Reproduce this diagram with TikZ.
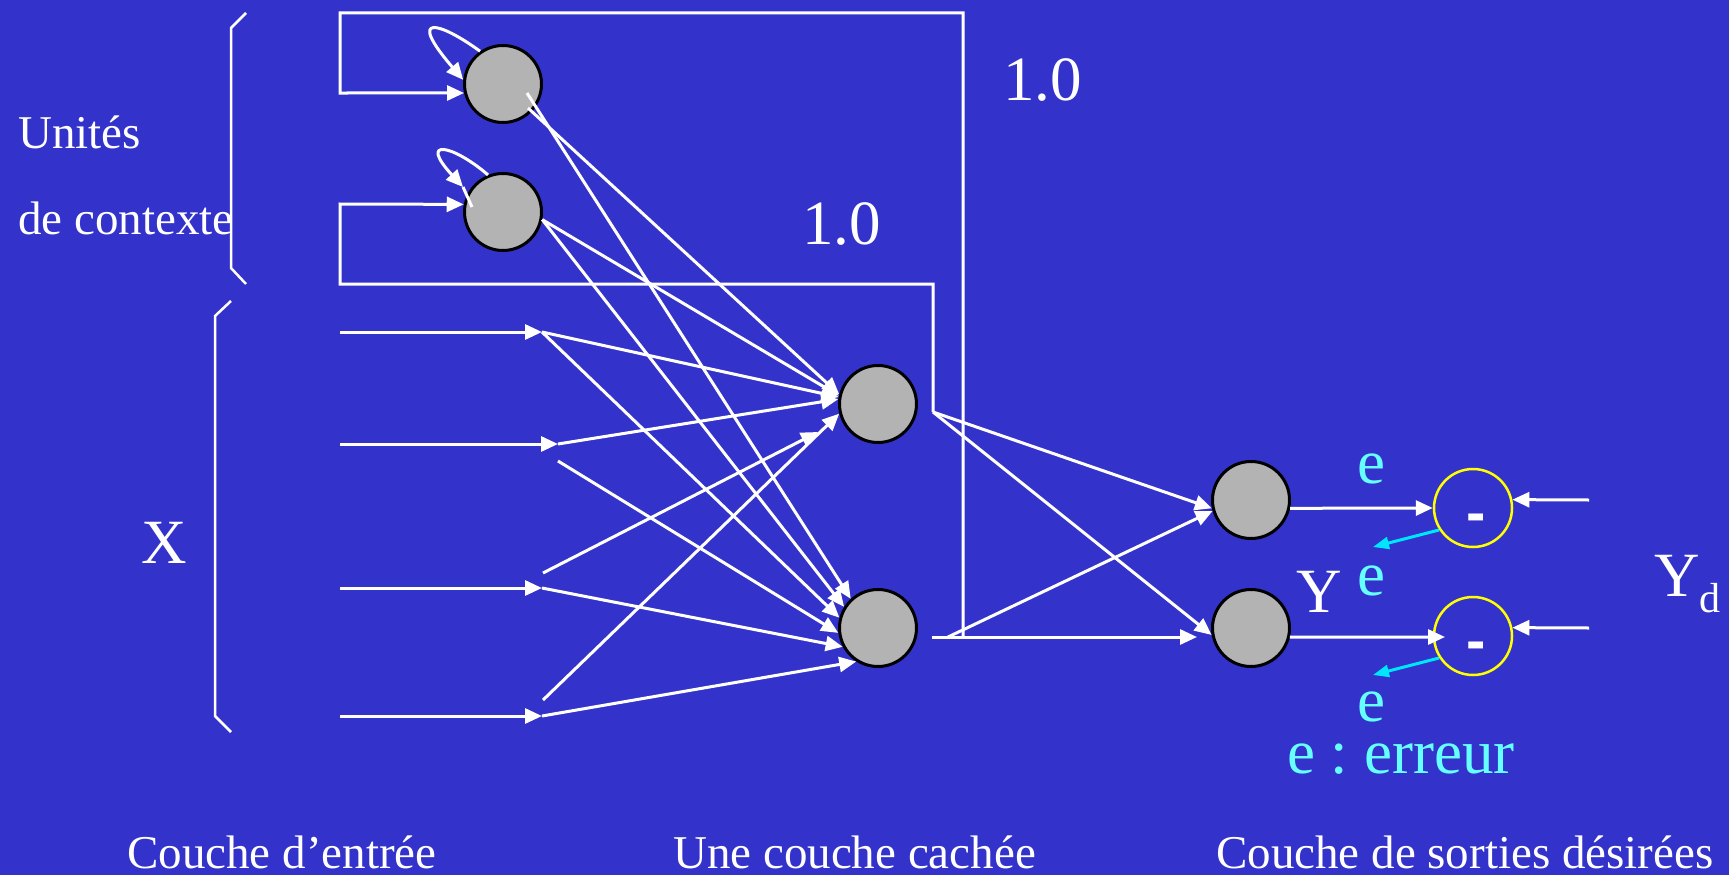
\documentclass[tikz,border=0pt]{standalone}
\usepackage{fontspec}
\setmainfont{Liberation Serif}
\newfontfamily\signfont{Liberation Sans}
\usetikzlibrary{arrows.meta}

\definecolor{slidebg}{RGB}{51,51,204}
\definecolor{nodegray}{RGB}{179,179,179}
\definecolor{diffyellow}{RGB}{255,255,0}
\definecolor{errtext}{RGB}{102,255,255}
\definecolor{errline}{RGB}{0,230,255}

\tikzset{
  neuron/.style={circle, draw=black, line width=3pt, fill=nodegray,
                 minimum size=77pt, inner sep=0pt},
  diffnode/.style={circle, draw=diffyellow, line width=2.5pt,
                   minimum size=78pt, inner sep=0pt},
  wire/.style={draw=white, line width=3pt},
  feed/.style={wire, -{Triangle[length=17pt,width=15pt]}},
  errarr/.style={draw=errline, line width=3pt, -{Triangle[length=16pt,width=12pt]}},
  brace/.style={draw=white, line width=2.5pt},
  biglbl/.style={text=white, inner sep=0pt, font=\fontsize{63}{70}\selectfont},
  sublbl/.style={text=white, inner sep=0pt, font=\fontsize{42}{46}\selectfont},
  midlbl/.style={text=white, inner sep=0pt, font=\fontsize{47}{52}\selectfont},
  errlbl/.style={text=errtext, inner sep=0pt, font=\fontsize{63}{70}\selectfont},
  minus/.style={text=white, inner sep=0pt, font=\signfont\bfseries\fontsize{58}{58}\selectfont}
}

\begin{document}
\frenchspacing
\begin{tikzpicture}[x=1pt, y=-1pt]
\fill[slidebg] (0,0) rectangle (1729,875);
\useasboundingbox (0,0) rectangle (1729,875);

% ---- neurons ----
\node[neuron] (c1) at (503,84) {};
\node[neuron] (c2) at (503,212) {};
\node[neuron] (h1) at (878,404) {};
\node[neuron] (h2) at (878,628) {};
\node[neuron] (o1) at (1251,500) {};
\node[neuron] (o2) at (1251,628) {};
\node[diffnode] (d1) at (1473,508) {};
\node[diffnode] (d2) at (1473,636) {};
\node[minus, anchor=base] (m1) at (1476,532) {-};
\node[minus, anchor=base] (m2) at (1476,660) {-};

% ---- input terminals ----
\coordinate (s1) at (340,332);  \coordinate (i1) at (542,332);
\coordinate (s2) at (340,444);  \coordinate (i2) at (558,444);
\coordinate (s3) at (340,588);  \coordinate (i3) at (542,588);
\coordinate (s4) at (340,716);  \coordinate (i4) at (542,716);
\coordinate (i2b) at (558,461);
\coordinate (i3b) at (543,573);
\coordinate (i4b) at (543,700);
\coordinate (c1a) at (527,93);
\coordinate (c1b) at (528,108);
\coordinate (h1tip3) at (818,432);

% ---- hidden / output ports ----
\coordinate (h1o) at (933,412);
\coordinate (h2o) at (932,637);
\coordinate (h2ob) at (948,637);
\coordinate (h2j) at (963,637);
\coordinate (o2in) at (1197,637);
\coordinate (d2in) at (1445,637);
\coordinate (yd1) at (1589,500);
\coordinate (yd2) at (1589,628);
\coordinate (ce1) at (1373,547);
\coordinate (ce2) at (1373,675);

% ---- recurrent copy paths ----
\coordinate (fb1a) at (963,13);
\coordinate (fb1b) at (340,13);
\coordinate (fb1c) at (340,93);
\coordinate (fb2a) at (933,284);
\coordinate (fb2b) at (340,284);
\coordinate (fb2c) at (340,204);
\coordinate (c2k) at (463,187);
\coordinate (c2m) at (472,207);

% ---- brackets ----
\coordinate (b1a) at (246,13);  \coordinate (b1b) at (231,28);
\coordinate (b1c) at (231,268); \coordinate (b1d) at (246,284);
\coordinate (b2a) at (231,301); \coordinate (b2b) at (215,316);
\coordinate (b2c) at (215,716); \coordinate (b2d) at (231,732);
\draw[brace] (b1a) -- (b1b) -- (b1c) -- (b1d);
\draw[brace] (b2a) -- (b2b) -- (b2c) -- (b2d);

% input arrows
\draw[feed] (s1) -- (i1);
\draw[feed] (s2) -- (i2);
\draw[feed] (s3) -- (i3);
\draw[feed] (s4) -- (i4);

% input + context -> hidden 1
\draw[feed] (c1b) -- (h1.166);
\draw[feed] (c2.349) -- (h1.168);
\draw[feed] (i1) -- (h1.170);
\draw[feed] (i2) -- (h1.173);
\draw[feed] (i3b) -- (h1tip3);
\draw[feed] (i4b) -- (h1.194);

% input + context -> hidden 2
\draw[feed] (c1a) -- (h2.133);
\draw[feed] (c2.349) -- (h2.148);
\draw[feed] (i1) -- (h2.165);
\draw[feed] (i2b) -- (h2.187);
\draw[feed] (i3) -- (h2.208);
\draw[feed] (i4) -- (h2.237);

% copy of hidden activations into context units (weight 1.0)
\draw[feed] (h2j) -- (fb1a) -- (fb1b) -- (fb1c) -- (c1.193);
\draw[feed] (h1o) -- (fb2a) -- (fb2b) -- (fb2c) -- (c2.169);

% self loops on context units
\draw[feed] (c1.125) .. controls (440,22) and (405,12) .. (c1.174);
\draw[feed] (c2.112) .. controls (452,144) and (418,138) .. (c2k);
\draw[wire] (c2k) -- (c2m);

% hidden -> output
\draw[feed] (h1o) -- (o1.192);
\draw[feed] (h1o) -- (o2.190);
\draw[feed] (h2ob) -- (o1.196);
\draw[feed] (h2o) -- (o2in);

% output -> comparators
\draw[feed] (o1.348) -- (d1.west);
\draw[feed] (o2.347) -- (d2in);
\draw[feed] (yd1) -- (d1.12);
\draw[feed] (yd2) -- (d2.12);
\draw[errarr] (d1.213) -- (ce1);
\draw[errarr] (d2.213) -- (ce2);

% ---- labels ----
\node[midlbl, anchor=base west] (unites) at (18,148) {Unités};
\node[midlbl, anchor=base west] (contexte) at (18,234) {de contexte};
\node[biglbl, anchor=base] (xlab) at (164,563) {X};
\node[biglbl, anchor=base west] (w1) at (1003,100) {1.0};
\node[biglbl, anchor=base west] (w2) at (802,244) {1.0};
\node[biglbl, anchor=base west] (ylab) at (1296,612) {Y};
\node[biglbl, anchor=base west] (ydlab) at (1654,596) {Y};
\node[sublbl, anchor=base west] (ydsub) at (1699,612) {d};
\node[errlbl, anchor=base] (e1) at (1371,483) {e};
\node[errlbl, anchor=base] (e2) at (1371,595) {e};
\node[errlbl, anchor=base] (e3) at (1371,721) {e};
\node[errlbl, anchor=base west] (legend) at (1287,773) {e :\ erreur};
\node[midlbl, anchor=base west] (layin) at (127,868) {Couche d’entrée};
\node[midlbl, anchor=base west] (layhid) at (673,868) {Une couche cachée};
\node[midlbl, anchor=base west] (layout) at (1216,868) {Couche de sorties désirées};
\end{tikzpicture}
\end{document}
